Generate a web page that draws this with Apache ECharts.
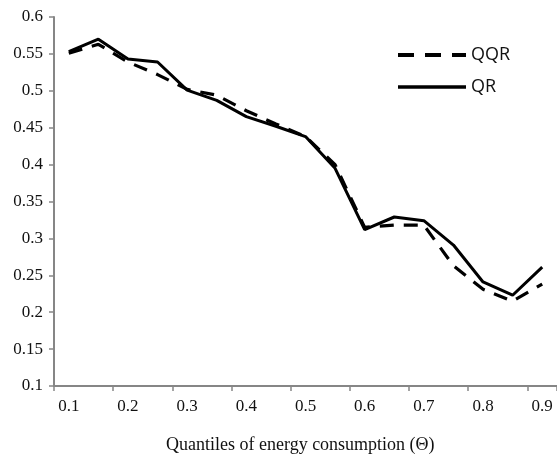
<!DOCTYPE html>
<html>
<head>
<meta charset="utf-8">
<script src="https://cdn.jsdelivr.net/npm/echarts@6/dist/echarts.min.js"></script>
<style>
html,body{margin:0;padding:0;background:#fff;}
#chart{width:557px;height:459px;}
</style>
</head>
<body>
<div id="chart"></div>
<script>
var categories = ['0.1','0.15','0.2','0.25','0.3','0.35','0.4','0.45','0.5','0.55','0.6','0.65','0.7','0.75','0.8','0.85','0.9'];
var qqrValues = [0.551,0.563,0.539,0.522,0.502,0.494,0.473,0.455,0.438,0.400,0.315,0.318,0.318,0.263,0.231,0.215,0.238];
var qrValues  = [0.553,0.570,0.543,0.539,0.501,0.487,0.465,0.452,0.438,0.395,0.312,0.329,0.324,0.291,0.241,0.223,0.261];
var seriesNames = ['QQR','QR'];
var xTitle = 'Quantiles of energy consumption (\u0398)';

var chart = echarts.init(document.getElementById('chart'), null, {renderer:'canvas'});
var axisColor = '#868686';
var serif = '"Liberation Serif","Times New Roman",serif';
chart.setOption({
  animation: false,
  backgroundColor: '#fff',
  grid: {left: 54, right: 0, top: 17, bottom: 73, containLabel: false},
  legend: {
    orient: 'vertical',
    left: 396, top: 46,
    padding: 0,
    itemWidth: 68, itemHeight: 14, itemGap: 14,
    itemStyle: {color: 'rgba(0,0,0,0)', borderColor: 'rgba(0,0,0,0)', borderWidth: 0},
    textStyle: {fontFamily: '"Open Sans","Liberation Sans",sans-serif', fontSize: 18, color: '#111'},
    data: [
      {name: seriesNames[0], lineStyle: {width: 4, type: [16, 11], color: '#000'}},
      {name: seriesNames[1], lineStyle: {width: 3.6, type: 'solid', color: '#000'}}
    ]
  },
  xAxis: {
    type: 'category',
    data: categories,
    boundaryGap: true,
    axisLine: {show: true, lineStyle: {color: axisColor, width: 2}},
    axisTick: {show: true, interval: 1, length: 5, lineStyle: {color: axisColor, width: 1.5}},
    axisLabel: {interval: 1, margin: 12, fontFamily: serif, fontSize: 17, color: '#111'},
    splitLine: {show: false}
  },
  yAxis: {
    type: 'value',
    min: 0.1, max: 0.6, interval: 0.05,
    axisLine: {show: true, lineStyle: {color: axisColor, width: 2}},
    axisTick: {show: true, length: 5, lineStyle: {color: axisColor, width: 1.5}},
    axisLabel: {margin: 11, fontFamily: serif, fontSize: 17, color: '#111',
      formatter: function (v) { return String(+v.toFixed(2)); }},
    splitLine: {show: false}
  },
  graphic: [{
    type: 'text', left: 166, top: 436,
    style: {text: xTitle, font: '18px ' + serif, fill: '#111'}
  }],
  series: [
    {name: 'QR', type: 'line', data: qrValues, symbol: 'none', z: 2,
     lineStyle: {color: '#000', width: 3, type: 'solid'}, itemStyle: {color: '#000'}},
    {name: 'QQR', type: 'line', data: qqrValues, symbol: 'none', z: 3,
     lineStyle: {color: '#000', width: 3.2, type: [14, 10]}, itemStyle: {color: '#000'}}
  ]
});
</script>
</body>
</html>
